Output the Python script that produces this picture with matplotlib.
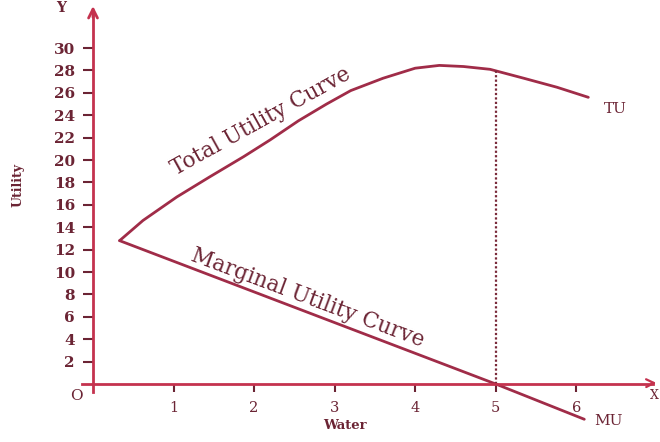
import numpy as np
import matplotlib.pyplot as plt

# Data
water_tu = [0.33, 0.62, 1.04, 1.45, 1.87, 2.2, 2.55, 2.9, 3.2, 3.6, 4.0, 4.3,
            4.6, 4.93, 5.35, 5.76, 6.15]
tu_values = [12.8, 14.6, 16.7, 18.5, 20.3, 21.8, 23.5, 25.0, 26.2, 27.3, 28.2,
             28.45, 28.35, 28.1, 27.3, 26.5, 25.6]
water_mu = [0.33, 5.0, 6.1]
mu_values = [12.8, 0.0, -3.15]
y_ticks = list(range(2, 31, 2))
x_ticks = [1, 2, 3, 4, 5, 6]

curve_col = '#a02c48'
axis_col = '#c4324e'
text_col = '#6b2434'

fig = plt.figure(figsize=(6.6, 4.42), dpi=100)
ax = fig.add_axes([0, 0, 1, 1])
ax.set_xlim(-1.155, 7.04)
ax.set_ylim(-5.18, 34.29)

for s in ['top', 'right']:
    ax.spines[s].set_visible(False)
ax.spines['left'].set_position(('data', 0))
ax.spines['bottom'].set_position(('data', 0))
ax.spines['left'].set_bounds(-0.7, 33.0)
ax.spines['bottom'].set_bounds(-0.14, 6.95)
ax.spines['left'].set_color(axis_col)
ax.spines['bottom'].set_color(axis_col)
ax.spines['left'].set_linewidth(2)
ax.spines['bottom'].set_linewidth(2)

ax.set_yticks(y_ticks)
ax.set_yticklabels([str(v) for v in y_ticks], fontfamily='DejaVu Serif',
                   fontweight='bold', fontsize=11, color=text_col)
ax.set_xticks(x_ticks)
ax.set_xticklabels([str(v) for v in x_ticks], fontfamily='DejaVu Serif',
                   fontsize=10.5, color=text_col)
ax.tick_params(axis='y', direction='out', length=7, width=1.5, pad=6, colors=text_col)
ax.tick_params(axis='x', direction='out', length=6, width=1.5, pad=6, colors=text_col)
for lab in ax.get_yticklabels() + ax.get_xticklabels():
    lab.set_color(text_col)

# axis arrows
ax.annotate('', xy=(0, 34.0), xytext=(0, 32.5),
            arrowprops=dict(arrowstyle='->', color=axis_col, lw=2,
                            mutation_scale=16))
ax.annotate('', xy=(7.03, 0.1), xytext=(6.9, 0.08),
            arrowprops=dict(arrowstyle='->', color=axis_col, lw=1.6,
                            mutation_scale=14))

# curves
ax.plot(water_tu, tu_values, color=curve_col, lw=2, solid_joinstyle='round',
        solid_capstyle='round')
ax.plot(water_mu, mu_values, color=curve_col, lw=2, solid_capstyle='round')
ax.plot([5, 5], [0, 28.0], color='#7a2a3a', lw=1.6, ls=(0, (1, 1)))

# labels
ax.text(2.08, 23.4, 'Total Utility Curve', rotation=29, fontsize=15.5,
        fontfamily='DejaVu Serif', color=text_col, ha='center', va='center',
        rotation_mode='anchor')
ax.text(2.66, 7.7, 'Marginal Utility Curve', rotation=-20.5, fontsize=15.5,
        fontfamily='DejaVu Serif', color=text_col, ha='center', va='center',
        rotation_mode='anchor')
ax.text(6.48, 24.6, 'TU', fontsize=11, fontfamily='DejaVu Serif',
        color=text_col, ha='center', va='center')
ax.text(6.4, -3.3, 'MU', fontsize=11, fontfamily='DejaVu Serif',
        color=text_col, ha='center', va='center')
ax.text(-0.2, -1.1, 'O', fontsize=11, fontfamily='DejaVu Serif',
        color=text_col, ha='center', va='center')
ax.text(-0.4, 33.6, 'Y', fontsize=10, fontweight='bold', fontfamily='DejaVu Serif',
        color=text_col, ha='center', va='center')
ax.text(7.03, -1.0, 'X', fontsize=9, fontfamily='DejaVu Serif',
        color=text_col, ha='right', va='center')
ax.text(-0.93, 17.8, 'Utility', rotation=90, fontsize=9, fontweight='bold',
        fontfamily='DejaVu Serif', color=text_col, ha='center', va='center')
ax.text(3.13, -3.7, 'Water', fontsize=9.5, fontweight='bold',
        fontfamily='DejaVu Serif', color=text_col, ha='center', va='center')

fig.savefig('out.png', dpi=100)
